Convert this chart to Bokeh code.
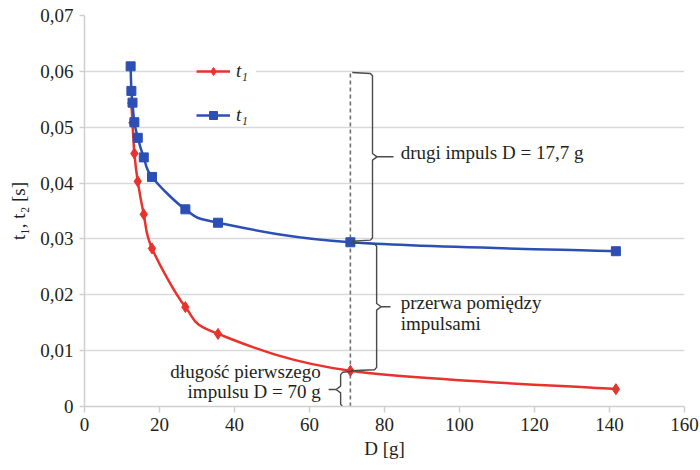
from bokeh.plotting import figure
from bokeh.embed import file_html
from bokeh.resources import INLINE
from bokeh.models import (Range1d, FixedTicker, CustomJSTickFormatter, Legend, LegendItem, Label)

# ---- data ----
D_blue = [12.3, 12.5, 12.8, 13.3, 14.2, 15.8, 18.0, 26.9, 35.6, 70.9, 141.7]
t_blue = [0.0609, 0.0565, 0.0544, 0.0509, 0.0481, 0.0446, 0.0411, 0.0353, 0.0329, 0.0294, 0.0278]
D_red = [12.5, 12.8, 13.3, 14.2, 15.8, 18.0, 26.9, 35.6, 70.9, 141.7]
t_red = [0.0543, 0.0508, 0.0453, 0.0403, 0.0344, 0.0283, 0.0178, 0.0130, 0.0064, 0.0031]
D_mark = 70.9          # dashed marker line
t_period = 0.0598      # top of the dashed line
x_ticks = [0, 20, 40, 60, 80, 100, 120, 140, 160]
y_ticks = [0, 0.01, 0.02, 0.03, 0.04, 0.05, 0.06, 0.07]
legend_labels = ["t\u2081", "t\u2081"]
label_second = "drugi impuls D = 17,7 g"
label_gap = ["przerwa pomiędzy", "impulsami"]
label_first = ["długość pierwszego", "impulsu D = 70 g"]

RED = "#e8322b"
BLUE = "#2c4fb5"
TXT = "#231f20"
GRID = "#d9d9d9"
FONT = "Liberation Serif"

p = figure(width=700, height=470, output_backend="svg", toolbar_location=None,
           x_range=Range1d(0, 160), y_range=Range1d(0, 0.07),
           min_border_left=84, min_border_right=16, min_border_top=15, min_border_bottom=64)
p.outline_line_color = None
p.background_fill_color = "white"

# axes
p.xaxis.ticker = FixedTicker(ticks=x_ticks)
p.yaxis.ticker = FixedTicker(ticks=y_ticks)
p.yaxis.formatter = CustomJSTickFormatter(code="""
  if (Math.abs(tick) < 1e-9) return "0";
  return tick.toFixed(2).replace('.', ',');
""")
for ax in (p.xaxis[0], p.yaxis[0]):
    ax.axis_line_color = "#cfcfcf"
    ax.axis_line_width = 1.5
    ax.major_tick_line_color = "#cfcfcf"
    ax.major_tick_line_width = 1.5
    ax.major_tick_in = 0
    ax.minor_tick_line_color = None
    ax.major_label_text_font = FONT
    ax.major_label_text_font_size = "19px"
    ax.major_label_text_color = TXT
    ax.axis_label_text_font = FONT
    ax.axis_label_text_font_size = "19px"
    ax.axis_label_text_color = TXT
    ax.axis_label_text_font_style = "normal"
p.xaxis.major_tick_out = 6
p.yaxis.major_tick_out = 5
p.xaxis.major_label_standoff = 5
p.yaxis.major_label_standoff = 6
p.xaxis.axis_label = "D [g]"
p.yaxis.axis_label = "t\u2081, t\u2082 [s]"
p.xaxis.axis_label_standoff = 4
p.yaxis.axis_label_standoff = 8

p.xgrid.grid_line_color = None
p.ygrid.grid_line_color = GRID
p.ygrid.grid_line_width = 1.5

# dashed marker line
p.segment(x0=[D_mark], y0=[0], x1=[D_mark], y1=[t_period],
          line_color="#707070", line_width=1.6, line_dash="4 3")


# smoothed line (cubic Bezier segments through the data points, like a spreadsheet "smoothed line")
def smooth_segments(xs, ys):
    n = len(xs)
    x0, y0, x1, y1, cx0, cy0, cx1, cy1 = [], [], [], [], [], [], [], []
    for i in range(n - 1):
        xa, ya = xs[max(i - 1, 0)], ys[max(i - 1, 0)]
        xb, yb = xs[i], ys[i]
        xc, yc = xs[i + 1], ys[i + 1]
        xd, yd = xs[min(i + 2, n - 1)], ys[min(i + 2, n - 1)]
        x0.append(xb); y0.append(yb); x1.append(xc); y1.append(yc)
        cx0.append(xb + (xc - xa) / 6); cy0.append(yb + (yc - ya) / 6)
        cx1.append(xc - (xd - xb) / 6); cy1.append(yc - (yd - yb) / 6)
    return dict(x0=x0, y0=y0, x1=x1, y1=y1, cx0=cx0, cy0=cy0, cx1=cx1, cy1=cy1)


p.bezier(**smooth_segments(D_red, t_red), line_color=RED, line_width=2.5)
r_pts = p.scatter(D_red, t_red, marker="diamond", size=11, fill_color=RED, line_color=RED)
p.bezier(**smooth_segments(D_blue, t_blue), line_color=BLUE, line_width=2.5)
b_pts = p.scatter(D_blue, t_blue, marker="square", size=9, fill_color=BLUE, line_color=BLUE)
# legend proxies for the line part of each legend symbol (single point: draws nothing on the plot)
r_leg = p.line(D_red[-1:], t_red[-1:], line_color=RED, line_width=2.5)
b_leg = p.line(D_blue[-1:], t_blue[-1:], line_color=BLUE, line_width=2.5)

# braces (px -> data: 1px x = 0.2667, 1px y = 0.000179)
ex = 0.55
ey = 0.0006


def brace_right(xh, xv, xtip, ytop, ybot):
    ym = (ytop + ybot) / 2
    xs = [xh, xv - ex, xv, xv, xv + 1.2, xtip]
    ys = [ytop, ytop - ey * 0.3, ytop - ey, ym + ey, ym, ym]
    xs2 = [xv + 1.2, xv, xv, xv - ex, xh]
    ys2 = [ym, ym - ey, ybot + ey, ybot + ey * 0.3, ybot]
    return [xs, xs2], [ys, ys2]


def brace_left(xh, xv, xtip, ytop, ybot):
    ym = (ytop + ybot) / 2
    xs = [xh, xv + ex, xv, xv, xv - 1.2, xtip]
    ys = [ytop, ytop - ey * 0.3, ytop - ey, ym + ey, ym, ym]
    xs2 = [xv - 1.2, xv, xv, xv + ex, xh]
    ys2 = [ym, ym - ey, ybot + ey, ybot + ey * 0.3, ybot]
    return [xs, xs2], [ys, ys2]


blue_at = t_blue[D_blue.index(D_mark)]
red_at = t_red[D_red.index(D_mark)]

bx1, by1 = brace_right(D_mark + 0.5, D_mark + 5.9, D_mark + 11.5, t_period, blue_at + 0.0002)
bx2, by2 = brace_right(D_mark, D_mark + 7.0, D_mark + 10.7, blue_at - 0.0001, red_at)
bx3, by3 = brace_left(D_mark + 0.6, D_mark - 2.6, D_mark - 5.8, red_at - 0.0001, -0.0002)
p.multi_line(bx1 + bx2 + bx3, by1 + by2 + by3, line_color="#4a4a4a", line_width=1.4)


# annotation texts
def lab(x, y, t, align="left"):
    p.add_layout(Label(x=x, y=y, text=t, text_font=FONT, text_font_size="19px",
                       text_color=TXT, text_align=align, text_baseline="middle"))


lab(84.3, 0.0455, label_second)
lab(84.3, 0.0186, label_gap[0])
lab(84.3, 0.0148, label_gap[1])
lab(63.0, 0.0062, label_first[0], "right")
lab(63.0, 0.0027, label_first[1], "right")

# legend
legend = Legend(items=[LegendItem(label=legend_labels[0], renderers=[r_leg, r_pts]),
                       LegendItem(label=legend_labels[1], renderers=[b_leg, b_pts])],
                location=(112, 280), orientation="vertical")
legend.label_text_font = FONT
legend.label_text_font_size = "19px"
legend.label_text_font_style = "italic"
legend.label_text_color = TXT
legend.glyph_width = 34
legend.glyph_height = 20
legend.label_standoff = 6
legend.spacing = 22
legend.padding = 4
legend.margin = 0
legend.border_line_color = None
legend.background_fill_color = "white"
legend.background_fill_alpha = 1.0
p.add_layout(legend)

open("out.html", "w").write(file_html(p, INLINE))
